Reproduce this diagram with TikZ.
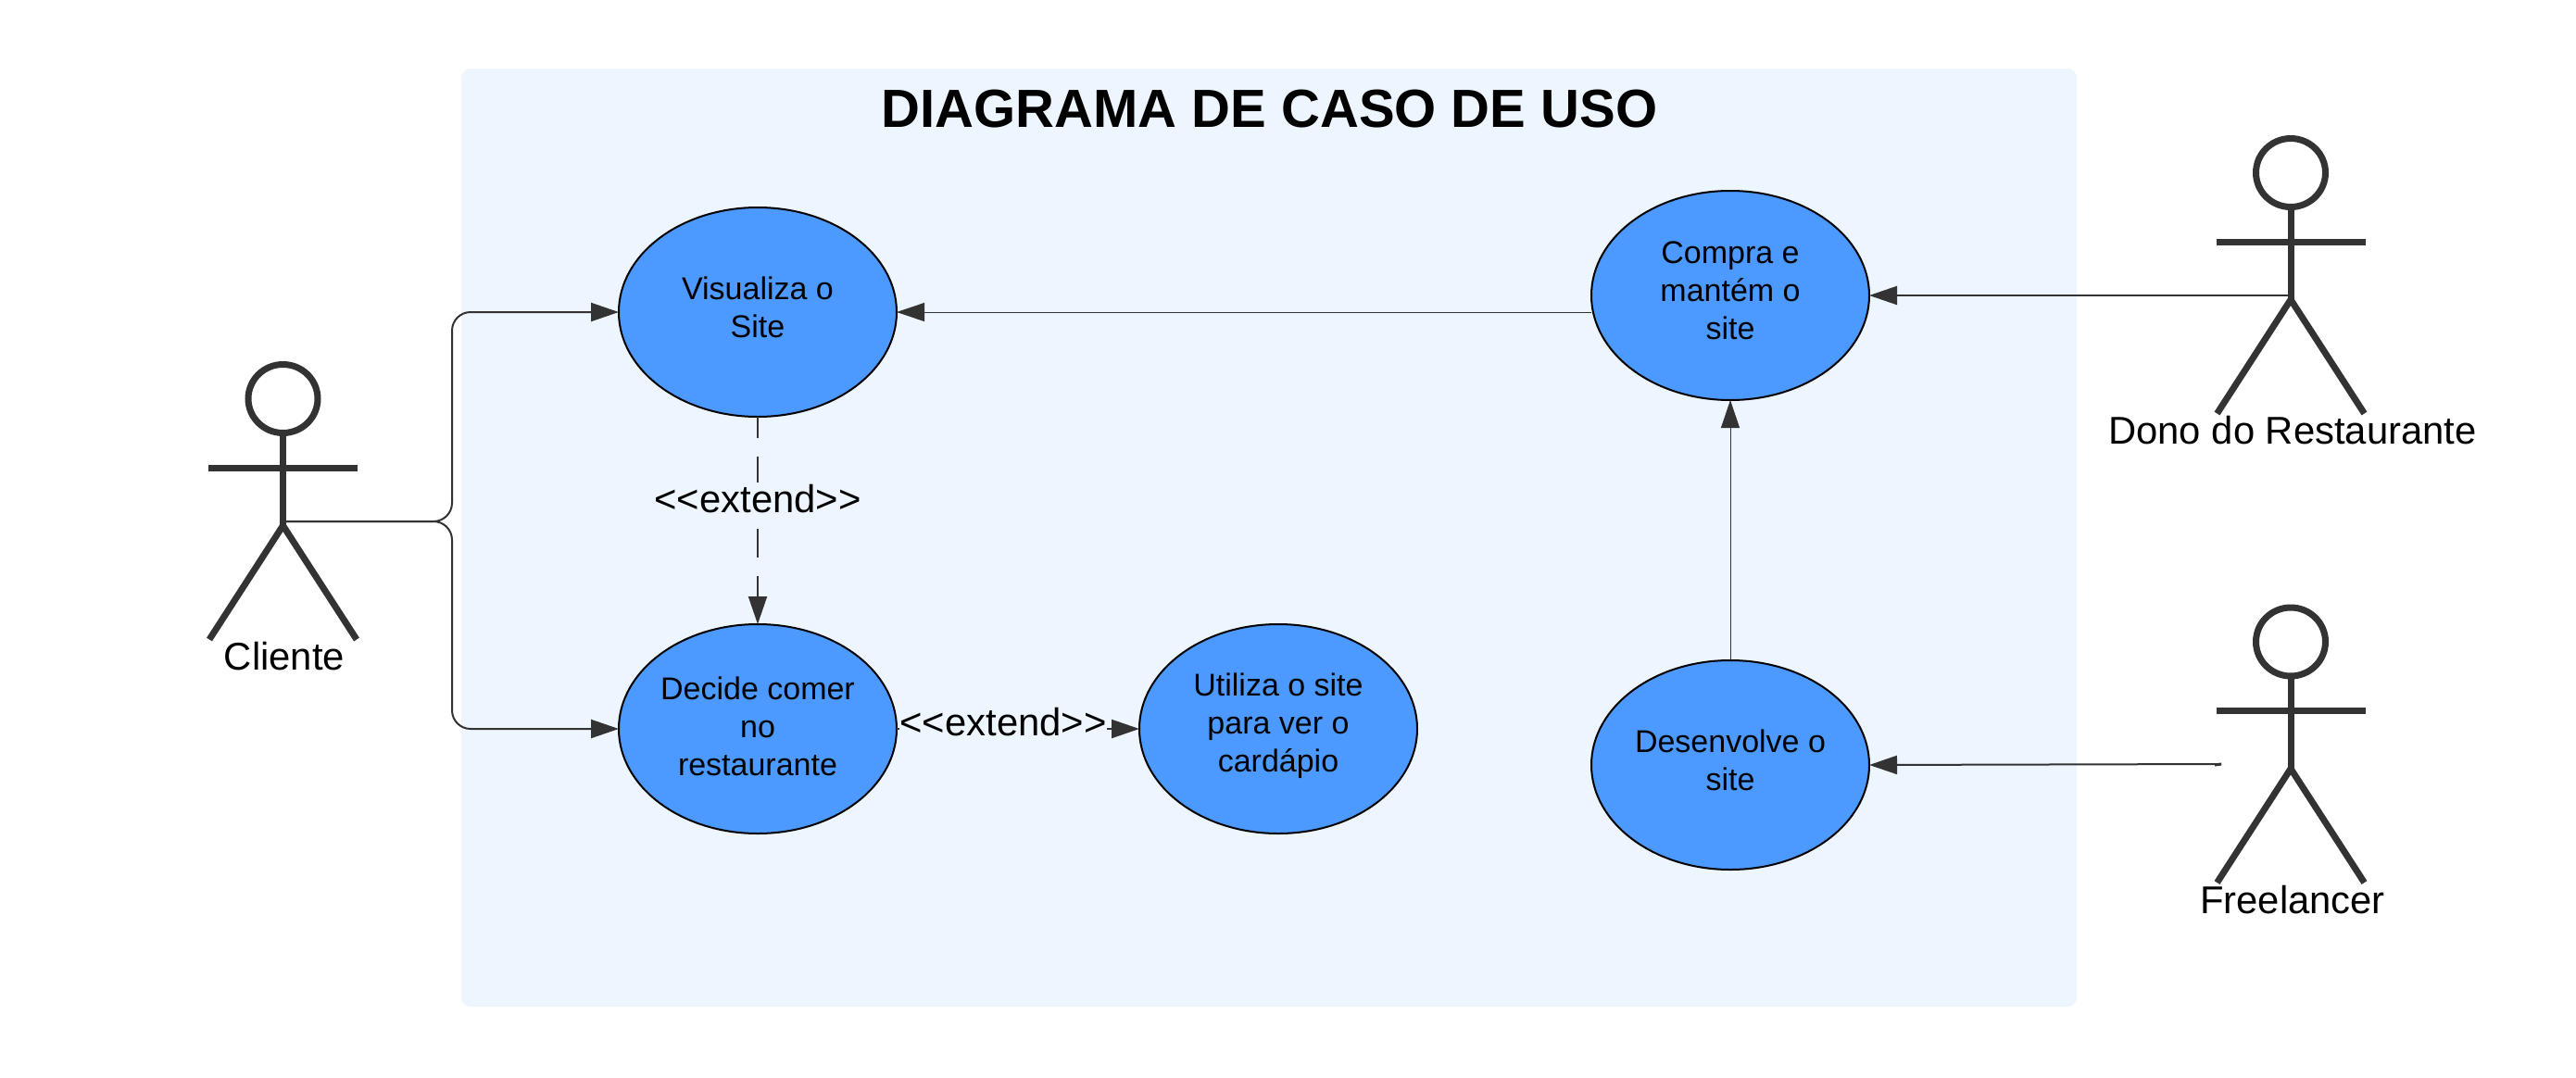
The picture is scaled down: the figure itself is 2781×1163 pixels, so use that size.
\documentclass[tikz,border=0pt]{standalone}
\usepackage{fontspec}
\setmainfont{Liberation Sans}
\usetikzlibrary{arrows.meta,shapes.geometric}
\definecolor{panelc}{HTML}{EDF5FF}
\definecolor{usec}{HTML}{4C9AFF}
\definecolor{inkc}{HTML}{333333}
\newcommand{\extendtext}{{<}{<}extend{>}{>}}
\tikzset{
  usecase/.style={shape=ellipse,draw=black,line width=1pt,fill=usec,inner sep=0pt,outer sep=0pt,
    minimum width=150pt,minimum height=113pt},
  casetext/.style={align=center,text=black,inner sep=0pt,yshift=2.5pt,
    font=\fontsize{17pt}{20.5pt}\selectfont},
  lowtext/.style={casetext,yshift=-1pt},
  link/.style={draw=inkc,line width=1pt,-{Triangle[length=15pt,width=10pt,fill=inkc]}},
  thinlink/.style={link,line width=.45pt},
  dashline/.style={draw=inkc,line width=1pt},
  bigtext/.style={font=\fontsize{20.9pt}{24pt}\selectfont,text=black,inner sep=0pt},
  extlabel/.style={bigtext,anchor=base},
  actorname/.style={bigtext,anchor=base},
  actorfig/.pic={
    \draw[inkc,line width=3.5pt] (0,0) ellipse [x radius=37.5,y radius=37];
    \draw[inkc,line width=3.5pt] (0,37) -- (0,137);
    \draw[inkc,line width=3.5pt] (-80.5,74.5) -- (80.5,74.5);
    \draw[inkc,line width=3.5pt,line join=round] (-79.5,260) -- (0,137) -- (79.5,260);
  },
}
\begin{document}
\begin{tikzpicture}[x=.5pt,y=-.5pt]
\useasboundingbox (0,0) rectangle (2781,1163);
\fill[white] (0,0) rectangle (2781,1163);
\fill[panelc,rounded corners=5pt] (498,74) rectangle (2242,1087);
\node[font=\bfseries\fontsize{29pt}{34pt}\selectfont,text=black,inner sep=0pt] (title) at (1370.5,118) {DIAGRAMA DE CASO DE USO};

\node[usecase,label={[casetext]center:{Visualiza o\\Site}}] (vis) at (818,337) {};
\node[usecase,label={[lowtext]center:{Decide comer\\no\\restaurante}}] (dec) at (818,787) {};
\node[usecase,label={[lowtext]center:{Utiliza o site\\para ver o\\cardápio}}] (uti) at (1380,787) {};
\node[usecase,label={[casetext]center:{Compra e\\mantém o\\site}}] (com) at (1868,319) {};
\node[usecase,label={[casetext]center:{Desenvolve o\\site}}] (des) at (1868,826) {};

\pic at (305.5,430.5) {actorfig};
\pic at (2473,186.5) {actorfig};
\pic at (2473,693) {actorfig};

\node[actorname] (cliente) at (307,723) {Cliente};
\node[actorname] (dono) at (2475,479) {Dono do Restaurante};
\node[actorname] (free) at (2475,986) {Freelancer};

\coordinate (cHip) at (309,563);
\coordinate (dHip) at (2473,319);
\coordinate (fHand) at (2398,825);
\coordinate (fTick) at (2391,826);
\coordinate (extTop) at (818,521);
\coordinate (extBot) at (818,571);

\draw[link,rounded corners=10pt] (cHip) -| (488,337) -- (vis.west);
\draw[link,rounded corners=10pt] (cHip) -| (488,787) -- (dec.west);
\draw[thinlink] (com.west |- vis.east) -- (vis.east);
\draw[link] (dHip) -- (com.east);
\draw[thinlink] (des.north) -- (com.south);
\draw[link] (fHand) -- (des.east);
\draw[inkc,line width=1.5pt] (fTick) -- (fHand);
\draw[dashline,dash pattern=on 15pt off 10pt,dash phase=3.5pt] (vis.south) -- (extTop);
\draw[link,dash pattern=on 15.5pt off 10pt] (extBot) -- (dec.north);
\node[extlabel] (ext1) at (818,553.5) {\extendtext};
\draw[link] (dec.east) -- (uti.west);
\node[extlabel,fill=panelc,inner ysep=6pt] (ext2) at (1083,794) {\extendtext};
\end{tikzpicture}
\end{document}
